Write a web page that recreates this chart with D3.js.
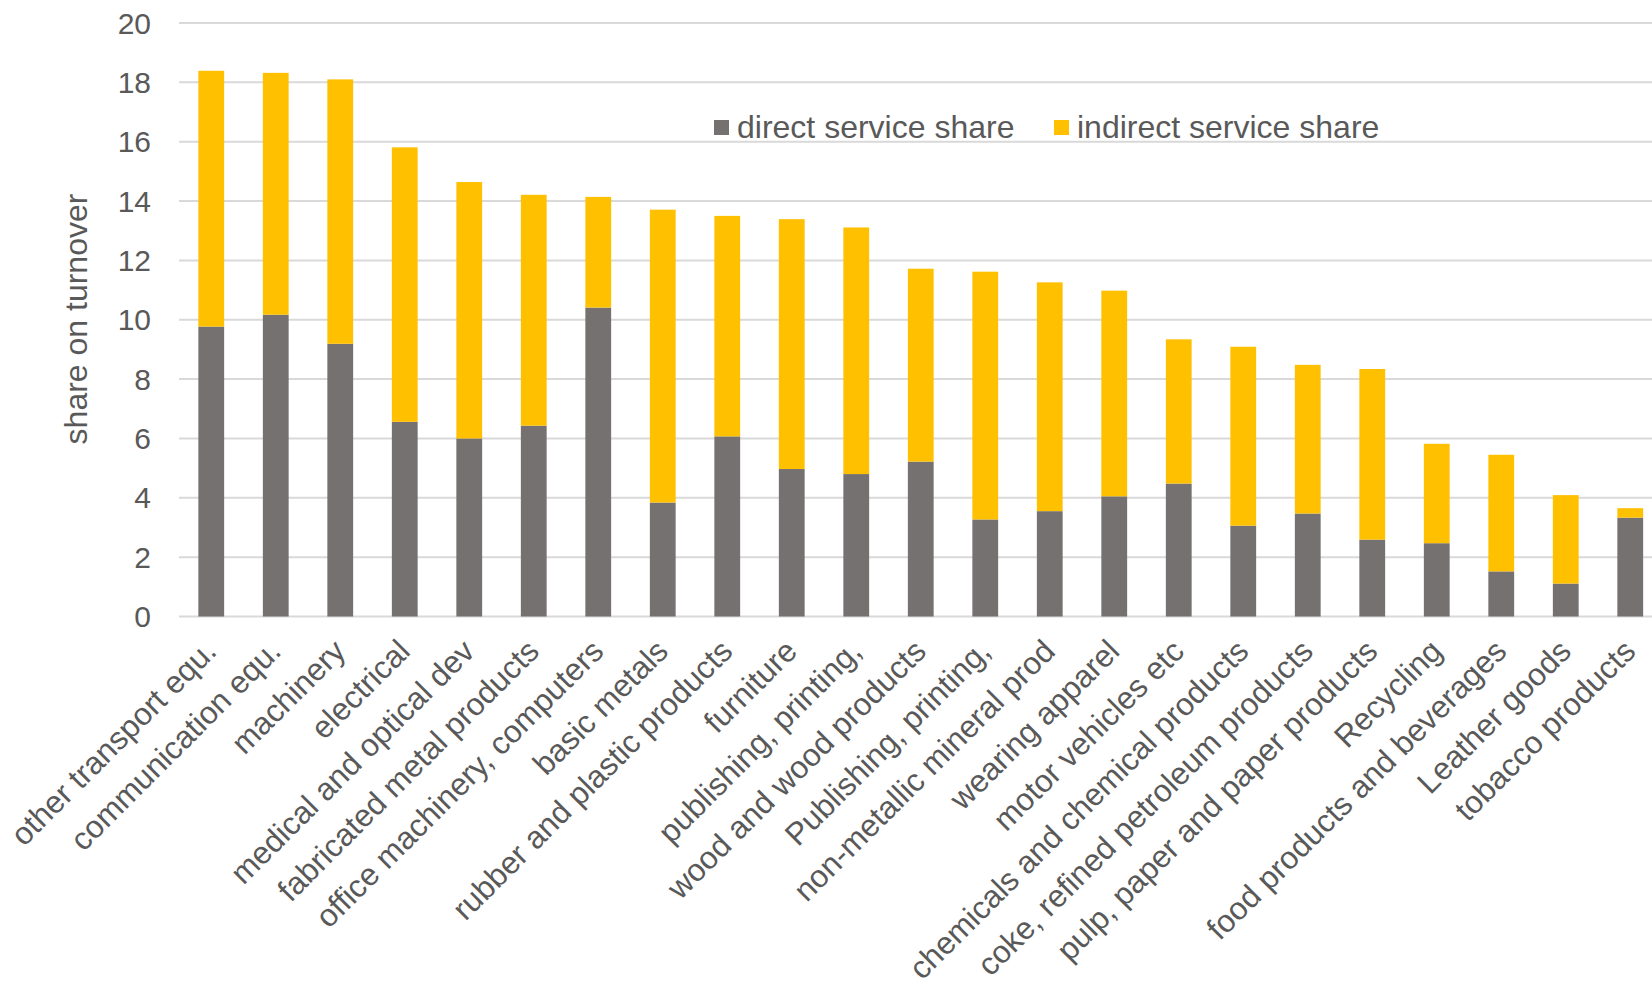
<!DOCTYPE html>
<html>
<head>
<meta charset="utf-8">
<script src="https://cdn.jsdelivr.net/npm/d3@7"></script>
<style>
  body { margin: 0; background: #fff; }
  svg text { font-family: "Liberation Sans", Arial, sans-serif; fill: #595959; }
</style>
</head>
<body>
<div id="chart"></div>
<script>
const WIDTH = 1652;
const HEIGHT = 988;

const categories = [
  "other transport equ.", "communication equ.", "machinery", "electrical",
  "medical and optical dev", "fabricated metal products", "office machinery, computers",
  "basic metals", "rubber and plastic products", "furniture", "publishing, printing,",
  "wood and wood products", "Publishing, printing,", "non-metallic mineral prod",
  "wearing apparel", "motor vehicles etc", "chemicals and chemical products",
  "coke, refined petroleum products", "pulp, paper and paper products", "Recycling",
  "food products and beverages", "Leather goods", "tobacco products"
];
const direct = [9.77, 10.17, 9.19, 6.56, 6.0, 6.43, 10.41, 3.84, 6.07, 4.97, 4.8,
  5.22, 3.27, 3.55, 4.05, 4.48, 3.06, 3.47, 2.59, 2.47, 1.52, 1.11, 3.33];
const total = [18.39, 18.32, 18.1, 15.81, 14.64, 14.21, 14.14, 13.71, 13.5, 13.39, 13.11,
  11.72, 11.62, 11.26, 10.98, 9.34, 9.09, 8.48, 8.34, 5.82, 5.45, 4.09, 3.65];
const indirect = total.map((t, i) => +(t - direct[i]).toFixed(2));
const seriesNames = ["direct service share", "indirect service share"];
const colors = ["#767171", "#FFC000"];
const yTicks = [0, 2, 4, 6, 8, 10, 12, 14, 16, 18, 20];

const LEFT = 179, RIGHT = 1662.5, TOP = 23, BOTTOM = 616.5;

const svg = d3.select("#chart").append("svg")
  .attr("width", WIDTH).attr("height", HEIGHT);

const x = d3.scaleBand().domain(categories).range([LEFT, RIGHT])
  .paddingInner(0.6).paddingOuter(0.3);
const y = d3.scaleLinear().domain([0, 20]).range([BOTTOM, TOP]);

// gridlines
svg.append("g").selectAll("line").data(yTicks).enter().append("line")
  .attr("x1", LEFT).attr("x2", WIDTH)
  .attr("y1", d => y(d)).attr("y2", d => y(d))
  .attr("stroke", "#D9D9D9").attr("stroke-width", 2);

// y tick labels
svg.append("g").selectAll("text").data(yTicks).enter().append("text")
  .attr("x", 151).attr("y", d => y(d)).attr("dy", "0.35em")
  .attr("text-anchor", "end").style("font-size", "30px")
  .text(d => d);

// y title
svg.append("text")
  .attr("transform", `translate(87,319) rotate(-90)`)
  .attr("text-anchor", "middle").style("font-size", "32px")
  .text("share on turnover");

// stacked bars
const rows = categories.map((c, i) => ({ cat: c, direct: direct[i], indirect: indirect[i] }));
const stack = d3.stack().keys(["direct", "indirect"])(rows);
svg.append("g").selectAll("g").data(stack).enter().append("g")
  .attr("fill", (d, i) => colors[i])
  .selectAll("rect").data(d => d).enter().append("rect")
  .attr("x", d => x(d.data.cat))
  .attr("width", x.bandwidth())
  .attr("y", d => y(d[1]))
  .attr("height", d => y(d[0]) - y(d[1]));

// category labels
svg.append("g").selectAll("text").data(categories).enter().append("text")
  .attr("transform", d => `translate(${x(d) + x.bandwidth() / 2 - 9},637) rotate(-45)`)
  .attr("dy", "0.72em")
  .attr("text-anchor", "end").style("font-size", "31.5px")
  .text(d => d);

// legend
const legend = svg.append("g");
const legendX = [714, 1054];
seriesNames.forEach((name, i) => {
  legend.append("rect").attr("x", legendX[i]).attr("y", 120)
    .attr("width", 15).attr("height", 15).attr("fill", colors[i]);
  legend.append("text").attr("x", legendX[i] + 23).attr("y", 138)
    .style("font-size", "32px").text(name);
});
</script>
</body>
</html>
